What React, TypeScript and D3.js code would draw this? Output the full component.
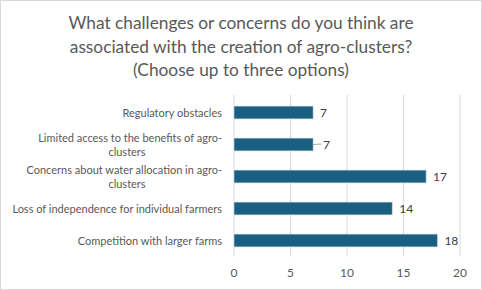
import React from "react";
import * as d3 from "d3";

const categories = [
  ["Regulatory obstacles"],
  ["Limited access to the benefits of agro-", "clusters"],
  ["Concerns about water allocation in agro-", "clusters"],
  ["Loss of independence for individual farmers"],
  ["Competition with larger farms"],
];
const values = [7, 7, 17, 14, 18];
const ticks = [0, 5, 10, 15, 20];
const titleLines = [
  "What challenges or concerns do you think are",
  "associated with the creation of agro-clusters?",
  "(Choose up to three options)",
];

export default function App() {
  const W = 482, H = 290;
  const x = d3.scaleLinear().domain([0, 20]).range([234, 460]);
  const y = d3.scaleBand<number>().domain(d3.range(values.length)).range([96.5, 256.5]).paddingInner(0.6).paddingOuter(0.3);
  const font = "Lato, 'Open Sans', sans-serif";
  const grey = "#595959";
  return (
    <div style={{ position: "absolute", left: 0, top: 0 }}>
      <svg width={W} height={H} style={{ display: "block" }} fontFamily={font}>
        <rect x={0.5} y={0.5} width={W - 1} height={H - 1} fill="#fff" stroke="#d9d9d9" />
        {titleLines.map((t, i) => (
          <text key={i} x={241} y={29 + i * 23.5} textAnchor="middle" fontSize={17.3} fill={grey}>{t}</text>
        ))}
        {ticks.map((t) => (
          <g key={t}>
            <line x1={x(t)} x2={x(t)} y1={95} y2={256.5} stroke="#d9d9d9" />
            <text x={x(t)} y={277} textAnchor="middle" fontSize={12} fill={grey}>{t}</text>
          </g>
        ))}
        {values.map((v, i) => {
          const yc = y(i)! + y.bandwidth() / 2;
          const lines = categories[i];
          return (
            <g key={i}>
              <rect x={x(0)} y={y(i)} width={x(v) - x(0)} height={y.bandwidth()} fill="#1a5e80" stroke="#c9d9e2" strokeWidth={0.6} />
              {i === 1 ? (
                <>
                  <line x1={x(v)} x2={x(v) + 8} y1={yc} y2={yc - 0.5} stroke="#a6a6a6" />
                  <text x={x(v) + 10} y={yc + 4} fontSize={12} fill="#404040">{v}</text>
                </>
              ) : (
                <text x={x(v) + 7} y={yc + 4} fontSize={12} fill="#404040">{v}</text>
              )}
              {lines.map((l, j) => (
                <text key={j} x={lines.length > 1 && j === 1 ? 127 : 222} y={yc + 4 + (j - (lines.length - 1) / 2) * 14} textAnchor={lines.length > 1 && j === 1 ? "middle" : "end"} fontSize={11} fill={grey}>{l}</text>
              ))}
            </g>
          );
        })}
      </svg>
    </div>
  );
}
